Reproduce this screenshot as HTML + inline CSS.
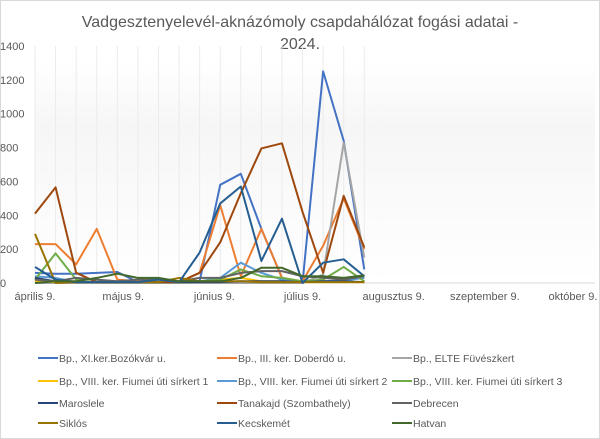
<!DOCTYPE html>
<html><head><meta charset="utf-8"><style>
body{margin:0;background:#fff;font-family:"Liberation Sans",sans-serif}
#wrap{position:relative;width:600px;height:439px;overflow:hidden}
</style></head><body>
<div id="wrap">
<svg id="chart" width="600" height="439" viewBox="0 0 600 439">
<defs><linearGradient id="bg" x1="0" y1="0" x2="0" y2="1"><stop offset="0" stop-color="#ffffff"/><stop offset="0.3" stop-color="#f6f6f6"/><stop offset="1" stop-color="#ffffff"/></linearGradient></defs>
<rect x="0.5" y="0.5" width="599" height="438" fill="#fff" stroke="#d9d9d9"/>
<rect x="35" y="60" width="560" height="223" fill="url(#bg)"/>
<text x="300" y="27" text-anchor="middle" font-size="16" fill="#595959">Vadgesztenyelevél-aknázómoly csapdahálózat fogási adatai -</text>
<text x="300" y="49" text-anchor="middle" font-size="16" fill="#595959">2024.</text>
<g id="grid"></g><g id="axes"></g><g id="series"></g><g id="legend"></g>
</svg>
</div>
<script>
const dayOffsets=[0,7,14,21,28,35,42,49,56,63,70,77,84,91,98,105,112];
const yTicks=[0,200,400,600,800,1000,1200,1400];
const xTickLabels=["április 9.","május 9.","június 9.","július 9.","augusztus 9.","szeptember 9.","október 9."];
const xTickDays=[0,30,61,91,122,153,183];
const seriesNames=["Bp., XI.ker.Bozókvár u."," Bp., III. ker. Doberdó u.","Bp., ELTE Füvészkert","Bp., VIII. ker. Fiumei úti sírkert 1","Bp., VIII. ker. Fiumei úti sírkert 2","Bp., VIII. ker. Fiumei úti sírkert 3","Maroslele","Tanakajd (Szombathely)","Debrecen","Siklós","Kecskemét","Hatvan"];
const seriesColors=["#4472C4","#ED7D31","#A5A5A5","#FFC000","#5B9BD5","#70AD47","#264478","#9E480E","#636363","#997300","#255E91","#43682B"];
const bozokvar=[60,55,55,60,65,5,5,5,10,580,645,320,30,0,1250,840,80];
const doberdo=[230,230,110,320,20,10,5,5,60,460,40,320,30,10,220,500,200];
const elte=[0,0,0,0,0,0,0,0,0,0,0,0,0,0,50,830,150];
const fiumei1=[10,5,5,5,5,5,5,5,10,20,30,10,10,5,5,5,5];
const fiumei2=[40,30,5,5,5,5,5,5,10,30,120,60,20,10,10,15,30];
const fiumei3=[20,175,20,20,5,5,5,5,10,20,80,40,30,10,20,95,10];
const maroslele=[30,10,5,5,5,5,5,5,5,5,10,10,10,5,10,10,5];
const tanakajd=[410,565,60,5,5,5,5,5,60,240,530,795,825,420,60,515,210];
const debrecen=[20,10,30,20,10,20,20,10,30,30,60,70,70,40,30,20,40];
const siklos=[290,0,5,5,5,5,5,30,10,10,10,5,5,5,5,5,5];
const kecskemet=[95,20,5,5,5,5,20,5,180,470,570,130,380,0,120,140,40];
const hatvan=[0,10,10,30,55,30,30,10,10,10,30,90,90,40,40,30,45];
const seriesValues=[bozokvar,doberdo,elte,fiumei1,fiumei2,fiumei3,maroslele,tanakajd,debrecen,siklos,kecskemet,hatvan];
const NS="http://www.w3.org/2000/svg";
const X0=35,PX_PER_DAY=2.94,Y0=283,PX_PER_UNIT=237/1400;
const xs=d=>X0+d*PX_PER_DAY, ys=v=>Y0-v*PX_PER_UNIT;
function mk(tag,attrs,parent){const e=document.createElementNS(NS,tag);for(const k in attrs)e.setAttribute(k,attrs[k]);parent.appendChild(e);return e;}
const grid=document.getElementById('grid'),axes=document.getElementById('axes'),ser=document.getElementById('series'),leg=document.getElementById('legend');
dayOffsets.forEach(d=>{const l=mk('line',{x1:xs(d),x2:xs(d),y1:ys(0),y2:ys(1400),stroke:'#ebebeb','stroke-width':1},grid);

});
yTicks.forEach(v=>{const t=mk('text',{x:0,y:ys(v)+4,'font-size':11,fill:'#595959'},axes);t.textContent=v;

});
const ax=mk('line',{x1:X0,x2:595,y1:Y0,y2:Y0,stroke:'#d9d9d9'},axes);


xTickLabels.forEach((s,i)=>{const t=mk('text',{x:xs(xTickDays[i]),y:300,'font-size':11,fill:'#595959','text-anchor':'middle'},axes);t.textContent=s;

});
seriesValues.forEach((vals,i)=>{const p=mk('polyline',{points:vals.map((v,j)=>xs(dayOffsets[j])+','+ys(v)).join(' '),fill:'none',stroke:seriesColors[i],'stroke-width':2,'stroke-linejoin':'round'},ser);

});
const colX=[38,217,392],rowY=[358,381,403,423];
seriesNames.forEach((n,i)=>{const cx=colX[i%3],cy=rowY[Math.floor(i/3)];
const g=mk('g',{},leg);


mk('line',{x1:cx,x2:cx+20,y1:cy,y2:cy,stroke:seriesColors[i],'stroke-width':2},g);
const t=mk('text',{x:cx+21,y:cy+4,'font-size':10.5,fill:'#595959'},g);t.textContent=n;});
</script>
</body></html>
